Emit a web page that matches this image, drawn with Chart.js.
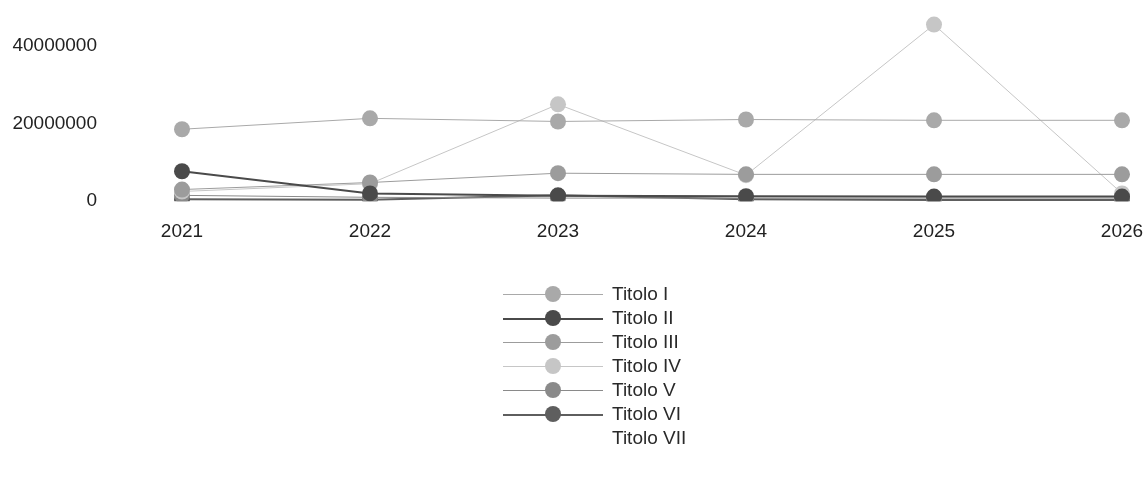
<!DOCTYPE html>
<html>
<head>
<meta charset="utf-8">
<script src="https://cdn.jsdelivr.net/npm/chart.js@4.4.0/dist/chart.umd.min.js"></script>
<style>
   html, body { margin: 0; padding: 0; background: #fff; }
   #wrap { position: relative; width: 1147px; height: 502px; }
   #legend { position: absolute; left: 503px; top: 282px; font-family: "Liberation Sans", sans-serif; font-size: 19px; color: #2a2a2a; }
   .item { position: relative; height: 24px; line-height: 24px; padding-left: 109px; white-space: nowrap; }
   .item .ln { position: absolute; left: 0; top: 12px; width: 100px; }
   .item .pt { position: absolute; left: 42px; top: 4px; width: 16px; height: 16px; border-radius: 50%; }
</style>
</head>
<body>
<div id="wrap">
   <canvas id="chart"></canvas>
   <div id="legend"></div>
</div>
<script>
const years = ['2021', '2022', '2023', '2024', '2025', '2026'];
const names = ['Titolo I', 'Titolo II', 'Titolo III', 'Titolo IV', 'Titolo V', 'Titolo VI', 'Titolo VII'];

const titolo1 = [18500000, 21300000, 20500000, 21000000, 20800000, 20800000];
const titolo2 = [7700000, 2000000, 1400000, 1300000, 1200000, 1200000];
const titolo3 = [3000000, 4800000, 7200000, 6900000, 6900000, 6900000];
const titolo4 = [2500000, 4500000, 24900000, 6700000, 45400000, 2000000];
const titolo5 = [1500000, 1000000, 800000, 800000, 800000, 800000];
const titolo6 = [500000, 400000, 1500000, 500000, 300000, 300000];
const titolo7 = [0, 0, 0, 0, 0, 0];

const yTicks = [0, 20000000, 40000000];

const colors = ['#a9a9a9', '#4a4a4a', '#9c9c9c', '#c6c6c6', '#8a8a8a', '#5e5e5e', 'rgba(0,0,0,0)'];
const widths = [1, 2, 1, 1, 1, 2, 0];

const series = [titolo1, titolo2, titolo3, titolo4, titolo5, titolo6, titolo7];

const datasets = series.map((d, i) => ({
   label: names[i],
   data: d,
   borderColor: colors[i],
   backgroundColor: colors[i],
   borderWidth: widths[i],
   pointRadius: i == 6 ? 0 : 8,
   pointBorderWidth: 0,
   pointBackgroundColor: colors[i],
   tension: 0
}))

const font = { family: '"Liberation Sans", sans-serif', size: 19 }

const chart = new Chart(document.getElementById('chart'), {
   type: 'line',
   data: { labels: years, datasets: datasets },
   options: {
      responsive: true,
      maintainAspectRatio: false,
      animation: false,
      layout: { padding: { top: 0, right: 25, bottom: 259, left: 0 } },
      plugins: {
         legend: { display: false },
         tooltip: { enabled: false }
      },
      scales: {
         x: {
            offset: false,
            // tick marks are hidden, tickLength only spaces the labels
            grid: { display: false, drawTicks: true, tickLength: 19 },
            border: { display: false },
            ticks: { color: '#222', font: font, padding: 0, maxRotation: 0 }
         },
         y: {
            min: 0,
            max: 48800000,
            grid: { display: false, drawTicks: true, tickLength: 85 },
            border: { display: false },
            afterBuildTicks: s => { s.ticks = yTicks.map(v => ({ value: v })) },
            afterFit: s => { s.width = 182 },
            ticks: { color: '#222', font: font, padding: 0, callback: v => String(v) }
         }
      }
   }
})

// legend below the plot, one entry per row
const legend = document.getElementById('legend')
names.forEach((name, i) => {
   const item = document.createElement('div')
   item.className = 'item'
   if (widths[i] > 0) {
      item.innerHTML = `<span class="ln" style="border-top:${widths[i]}px solid ${colors[i]}"></span>` +
         `<span class="pt" style="background:${colors[i]}"></span>`
   }
   item.appendChild(document.createTextNode(name))
   legend.appendChild(item)
})
</script>
</body>
</html>
